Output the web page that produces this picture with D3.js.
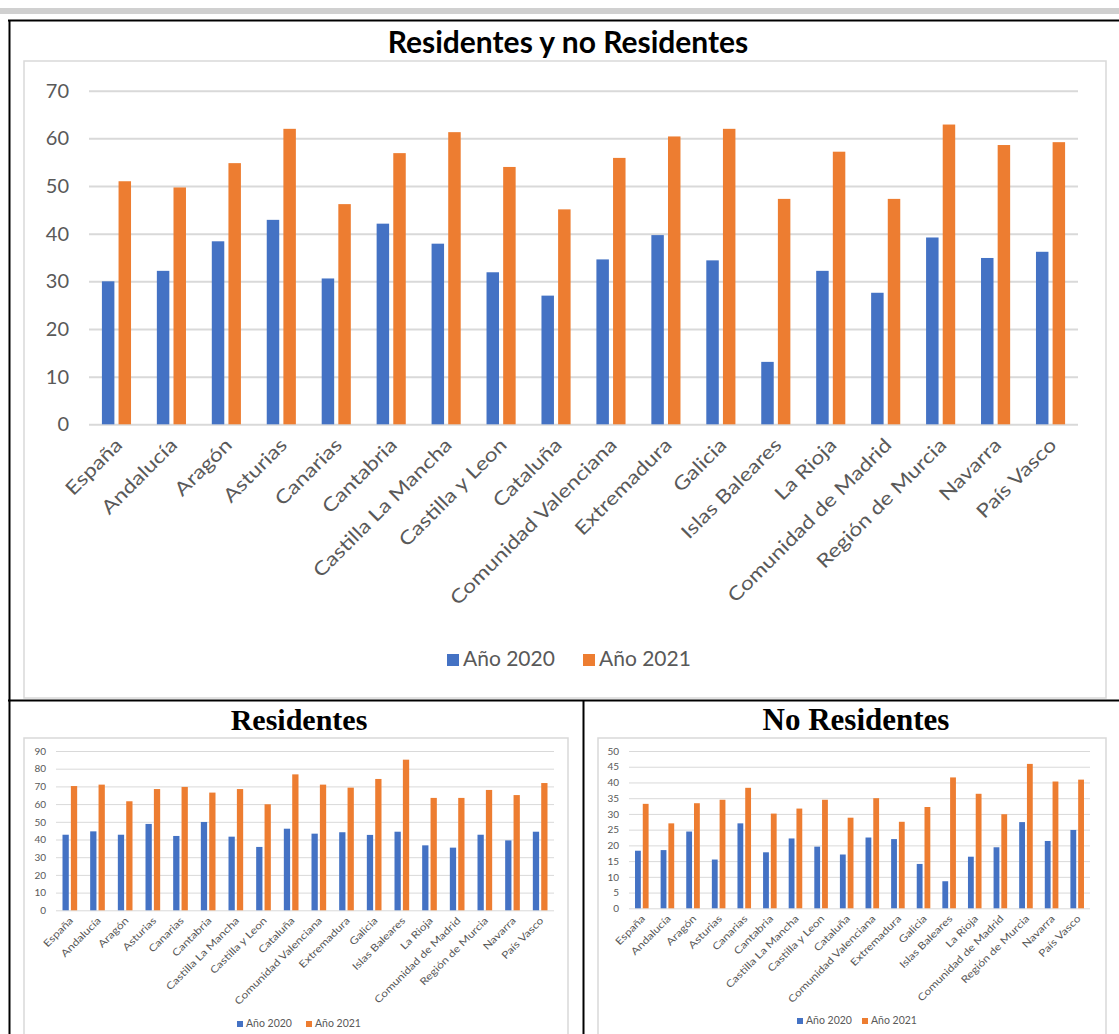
<!DOCTYPE html>
<html>
<head>
<meta charset="utf-8">
<script src="https://cdn.jsdelivr.net/npm/d3@7"></script>
<style>
  body { margin: 0; background: #fff; }
  svg { display: block; }
</style>
</head>
<body>
<svg id="page" width="1119" height="1034"></svg>
<script>
// categories (comunidades autónomas)
var categories = ["España", "Andalucía", "Aragón", "Asturias", "Canarias", "Cantabria",
  "Castilla La Mancha", "Castilla y Leon", "Cataluña", "Comunidad Valenciana", "Extremadura",
  "Galicia", "Islas Baleares", "La Rioja", "Comunidad de Madrid", "Región de Murcia",
  "Navarra", "País Vasco"];

var seriesNames = ["Año 2020", "Año 2021"];

// Residentes y no Residentes
var total2020 = [30.0, 32.2, 38.4, 42.9, 30.6, 42.1, 37.9, 31.9, 27.0, 34.6, 39.7, 34.4, 13.1, 32.2, 27.6, 39.2, 34.9, 36.2];
var total2021 = [51.0, 49.7, 54.8, 62.0, 46.2, 56.9, 61.3, 54.0, 45.1, 55.9, 60.4, 62.0, 47.3, 57.2, 47.3, 62.9, 58.6, 59.2];

// Residentes
var res2020 = [42.7, 44.6, 42.7, 48.8, 42.0, 49.9, 41.6, 35.8, 46.1, 43.3, 44.1, 42.6, 44.4, 36.7, 35.4, 42.7, 39.5, 44.4];
var res2021 = [70.2, 71.0, 61.6, 68.5, 69.7, 66.5, 68.5, 59.9, 76.8, 71.0, 69.3, 74.2, 85.1, 63.5, 63.5, 68.0, 65.1, 71.9];

// No Residentes
var noRes2020 = [18.3, 18.5, 24.4, 15.5, 27.0, 17.8, 22.2, 19.6, 17.1, 22.5, 22.0, 14.1, 8.6, 16.4, 19.4, 27.4, 21.4, 24.9];
var noRes2021 = [33.2, 27.0, 33.4, 34.5, 38.3, 30.1, 31.7, 34.5, 28.8, 35.0, 27.5, 32.2, 41.6, 36.4, 29.9, 45.9, 40.3, 40.9];

// y tick labels
var totalTicks = [0, 10, 20, 30, 40, 50, 60, 70];
var resTicks = [0, 10, 20, 30, 40, 50, 60, 70, 80, 90];
var noResTicks = [0, 5, 10, 15, 20, 25, 30, 35, 40, 45, 50];

var colors = ["#4472C4", "#ED7D31"];
var gridColor = "#d9d9d9";
var textColor = "#595959";
var font = "Lato, 'Open Sans', sans-serif";

var svg = d3.select("#page");

// top grey rule and table borders
svg.append("rect").attr("x", 0).attr("y", 8).attr("width", 1119).attr("height", 6).attr("fill", "#d0d0d0");
svg.append("line").attr("x1", 8).attr("x2", 1119).attr("y1", 20.5).attr("y2", 20.5).attr("stroke", "#000").attr("stroke-width", 2);
svg.append("line").attr("x1", 9.5).attr("x2", 9.5).attr("y1", 20).attr("y2", 1034).attr("stroke", "#000").attr("stroke-width", 2);
svg.append("line").attr("x1", 8).attr("x2", 1119).attr("y1", 700.5).attr("y2", 700.5).attr("stroke", "#000").attr("stroke-width", 2);
svg.append("line").attr("x1", 583.5).attr("x2", 583.5).attr("y1", 700).attr("y2", 1034).attr("stroke", "#000").attr("stroke-width", 2);

// cell titles
svg.append("text").attr("x", 568).attr("y", 53).attr("text-anchor", "middle")
  .style("font-family", "Lato, sans-serif").style("font-weight", "bold").style("font-size", "30px")
  .text("Residentes y no Residentes");
svg.append("text").attr("x", 299).attr("y", 730).attr("text-anchor", "middle")
  .style("font-family", "'Liberation Serif', serif").style("font-weight", "bold").style("font-size", "30px")
  .text("Residentes");
svg.append("text").attr("x", 856).attr("y", 730).attr("text-anchor", "middle")
  .style("font-family", "'Liberation Serif', serif").style("font-weight", "bold").style("font-size", "31px")
  .text("No Residentes");

// one Excel-like clustered column chart
function drawChart(o) {
  var g = svg.append("g");

  // chart frame
  g.append("rect")
    .attr("x", o.frame[0]).attr("y", o.frame[1])
    .attr("width", o.frame[2] - o.frame[0]).attr("height", o.frame[3] - o.frame[1])
    .attr("fill", "#fff").attr("stroke", gridColor).attr("stroke-width", 1.5);

  var x = d3.scaleBand().domain(categories).range([o.left, o.right])
    .paddingInner(o.pad).paddingOuter(o.pad / 2);
  var x1 = d3.scaleBand().domain([0, 1]).range([0, x.bandwidth()]).paddingInner(0.25);
  var y = d3.scaleLinear().domain([0, d3.max(o.ticks)]).range([o.bottom, o.top]);

  // gridlines + y labels
  var yAxis = d3.axisLeft(y).tickValues(o.ticks).tickSize(-(o.right - o.left)).tickPadding(o.tickPad);
  var ya = g.append("g").attr("transform", "translate(" + o.left + ",0)").call(yAxis);
  ya.select(".domain").remove();
  ya.selectAll(".tick line").attr("stroke", gridColor).attr("stroke-width", o.gridW);
  ya.selectAll(".tick text").attr("fill", textColor)
    .style("font-family", font).style("font-size", o.yFont + "px");

  // bars
  var rows = categories.map(function(c, i) { return {key: c, vals: [o.s2020[i], o.s2021[i]]}; });
  var grp = g.selectAll(".cat").data(rows).enter().append("g")
    .attr("transform", function(d) { return "translate(" + x(d.key) + ",0)"; });
  grp.selectAll("rect").data(function(d) { return d.vals; }).enter().append("rect")
    .attr("x", function(d, i) { return x1(i); })
    .attr("width", x1.bandwidth())
    .attr("y", function(d) { return y(d); })
    .attr("height", function(d) { return y(0) - y(d); })
    .attr("fill", function(d, i) { return colors[i]; });

  // rotated category labels (source picture is stretched, so widen the text a bit)
  g.selectAll(".xl").data(categories).enter().append("text")
    .attr("text-anchor", "end")
    .attr("transform", function(d) {
      return "translate(" + (x(d) + x.bandwidth() / 2 + o.labDx) + "," + (o.bottom + o.labDy) + ") rotate(-45) scale(1.2,1)";
    })
    .attr("fill", textColor)
    .style("font-family", font).style("font-size", o.xFont + "px")
    .text(function(d) { return d; });

  // legend
  var lg = g.append("g");
  seriesNames.forEach(function(s, i) {
    lg.append("rect").attr("x", o.legX[i]).attr("y", o.legY - o.legSq + 1)
      .attr("width", o.legSq).attr("height", o.legSq).attr("fill", colors[i]);
    lg.append("text").attr("x", o.legX[i] + o.legSq + o.legGap).attr("y", o.legY + 1)
      .attr("fill", textColor).style("font-family", font).style("font-size", o.legFont + "px")
      .text(s);
  });
}

drawChart({
  frame: [24, 61, 1106, 698],
  left: 89, right: 1078, top: 90.7, bottom: 424.3,
  pad: 0.47, ticks: totalTicks, s2020: total2020, s2021: total2021,
  tickPad: 20, gridW: 2, yFont: 20, xFont: 19, labDx: 7, labDy: 22,
  legX: [447, 583], legY: 665, legSq: 12, legGap: 4, legFont: 21
});

drawChart({
  frame: [24, 738, 568, 1040],
  left: 56, right: 554, top: 751, bottom: 910.3,
  pad: 0.47, ticks: resTicks, s2020: res2020, s2021: res2021,
  tickPad: 10, gridW: 1, yFont: 10, xFont: 10, labDx: 4, labDy: 11,
  legX: [237, 306], legY: 1026, legSq: 6, legGap: 3, legFont: 10.5
});

drawChart({
  frame: [598, 738, 1106, 1040],
  left: 629, right: 1090, top: 751, bottom: 908.3,
  pad: 0.47, ticks: noResTicks, s2020: noRes2020, s2021: noRes2021,
  tickPad: 10, gridW: 1, yFont: 10, xFont: 10, labDx: 4, labDy: 11,
  legX: [797, 862], legY: 1023, legSq: 6, legGap: 3, legFont: 10.5
});
</script>
</body>
</html>
